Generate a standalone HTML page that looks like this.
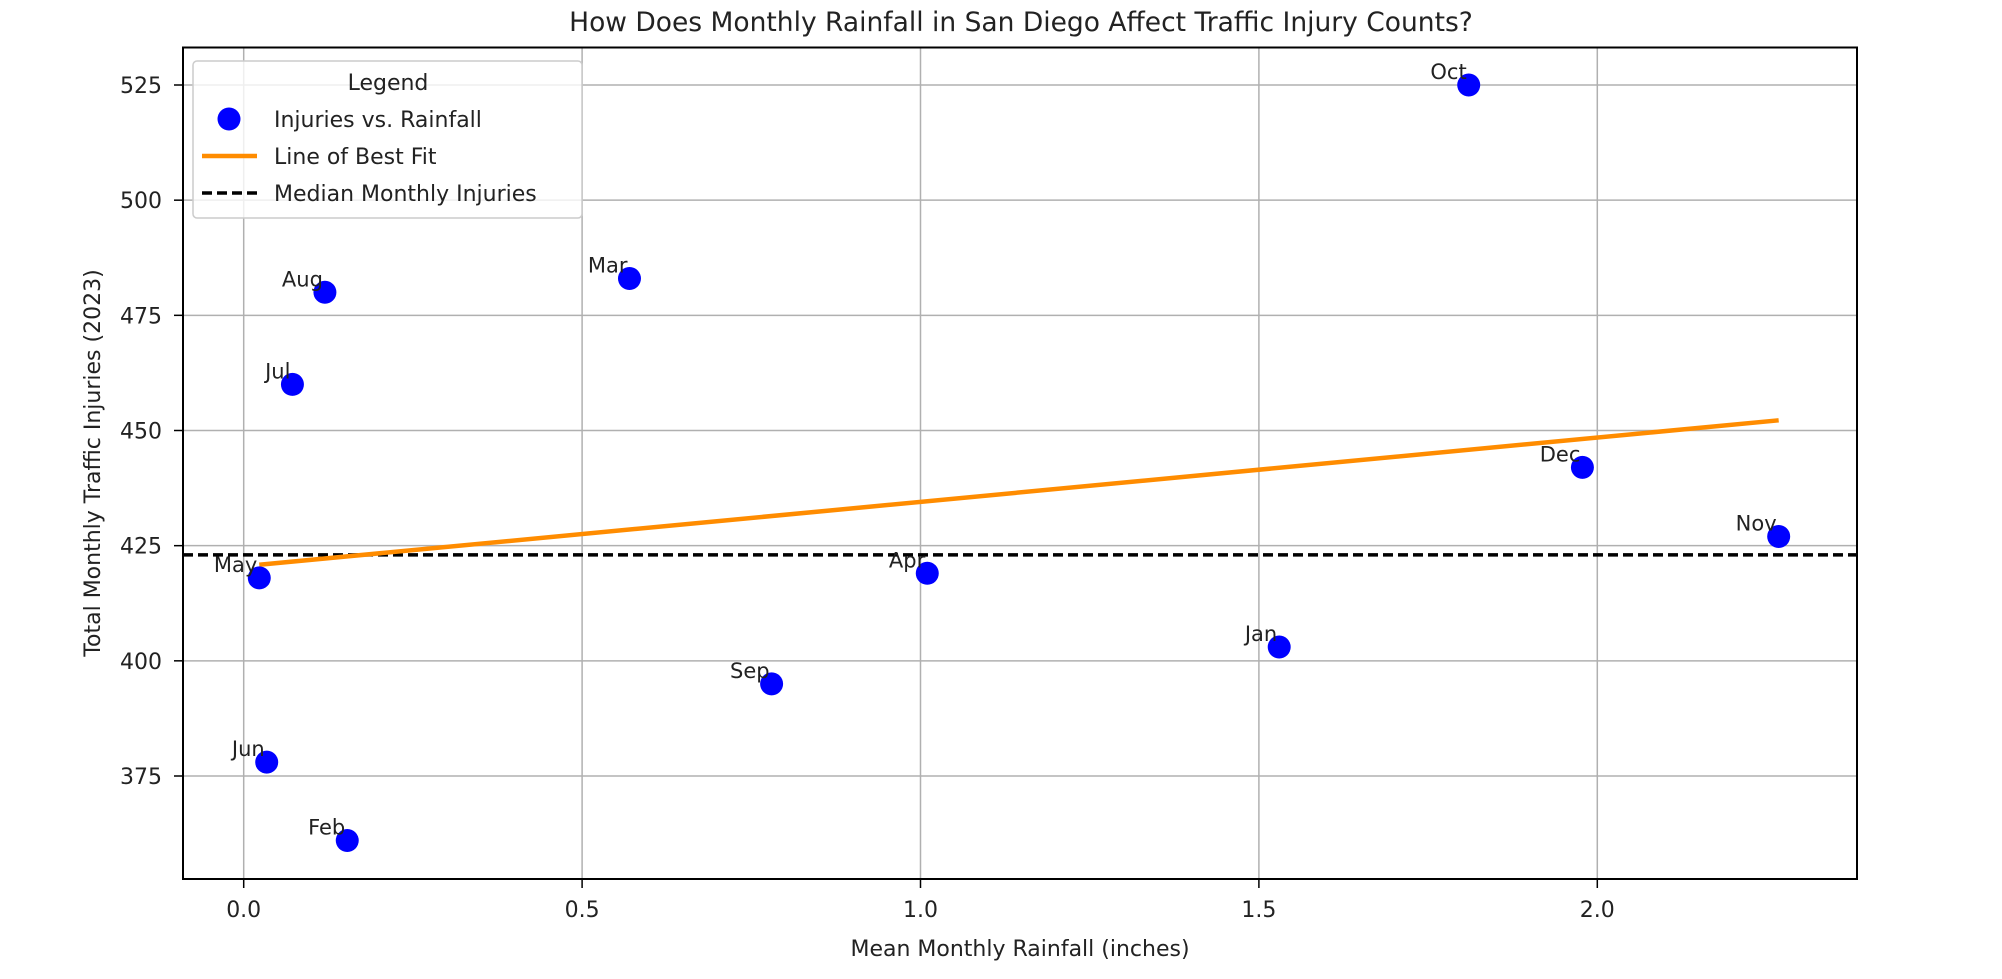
<!DOCTYPE html>
<html><head><meta charset="utf-8"><style>
html,body{margin:0;padding:0;background:#fff;}
svg text{font-family:"DejaVu Sans","Liberation Sans",sans-serif;fill:#222;}
</style></head><body>
<svg id="chart" width="2002" height="974" xmlns="http://www.w3.org/2000/svg">
<text x="1021" y="31" font-size="26.5" text-anchor="middle">How Does Monthly Rainfall in San Diego Affect Traffic Injury Counts?</text>
<g id="grid"></g>
<g id="ticks"></g>
<g id="marks"></g>
<rect x="183" y="47.5" width="1674" height="831.5" fill="none" stroke="#000" stroke-width="2"/>
<text x="1020" y="956" font-size="22" text-anchor="middle">Mean Monthly Rainfall (inches)</text>
<text x="0" y="0" font-size="22" text-anchor="middle" transform="translate(100,463) rotate(-90)">Total Monthly Traffic Injuries (2023)</text>
<g>
<rect x="193" y="61" width="389" height="157" rx="4" fill="#fff" fill-opacity="0.8" stroke="#ccc" stroke-width="1.5"/>
<text x="388" y="90" font-size="22" text-anchor="middle">Legend</text>
<circle cx="229" cy="119" r="11.5" fill="#0000ff"/>
<text x="274" y="127" font-size="22">Injuries vs. Rainfall</text>
<line x1="202" y1="156" x2="257" y2="156" stroke="#ff8c00" stroke-width="4.5"/>
<text x="274" y="164" font-size="22">Line of Best Fit</text>
<line x1="202" y1="193" x2="257" y2="193" stroke="#000" stroke-width="3.5" stroke-dasharray="10,5"/>
<text x="274" y="201" font-size="22">Median Monthly Injuries</text>
</g>
</svg>
<script>
const months = ["Jan","Feb","Mar","Apr","May","Jun","Jul","Aug","Sep","Oct","Nov","Dec"];
const rainfall = [1.53,0.153,0.57,1.01,0.023,0.034,0.072,0.12,0.78,1.81,2.268,1.978];
const injuries = [403,361,483,419,418,378,460,480,395,525,427,442];
const xTicks = [0.0,0.5,1.0,1.5,2.0];
const xTickLabels = ["0.0","0.5","1.0","1.5","2.0"];
const yTicks = [375,400,425,450,475,500,525];
const yTickLabels = ["375","400","425","450","475","500","525"];

const NS="http://www.w3.org/2000/svg";
function xs(v){return 243.7 + v*676.8;}
function ys(v){return 776 - (v-375)*(691/150);}
function mk(tag,attrs,parent){const e=document.createElementNS(NS,tag);for(const k in attrs)e.setAttribute(k,attrs[k]);parent.appendChild(e);return e;}
const grid=document.getElementById('grid'),ticks=document.getElementById('ticks'),marks=document.getElementById('marks');

xTicks.forEach((t,i)=>{
  const g=mk('line',{x1:xs(t),x2:xs(t),y1:47.5,y2:879,stroke:'#b0b0b0','stroke-width':1.5},grid);
  
  
  const tk=mk('line',{x1:xs(t),x2:xs(t),y1:879,y2:888,stroke:'#000','stroke-width':1.5},ticks);
  
  
  const tx=mk('text',{x:xs(t),y:917,'font-size':22,'text-anchor':'middle'},ticks);
  tx.textContent=xTickLabels[i];
  
  
});
yTicks.forEach((t,i)=>{
  const g=mk('line',{x1:183,x2:1857,y1:ys(t),y2:ys(t),stroke:'#b0b0b0','stroke-width':1.5},grid);
  
  
  const tk=mk('line',{x1:174,x2:183,y1:ys(t),y2:ys(t),stroke:'#000','stroke-width':1.5},ticks);
  
  
  const tx=mk('text',{x:162,y:ys(t)+8,'font-size':22,'text-anchor':'end'},ticks);
  tx.textContent=yTickLabels[i];
  
  
});

const sorted=[...injuries].sort((a,b)=>a-b);
const n=sorted.length;
const median = n%2 ? sorted[(n-1)/2] : (sorted[n/2-1]+sorted[n/2])/2;
const ml=mk('line',{x1:183,x2:1857,y1:ys(median),y2:ys(median),stroke:'#000','stroke-width':3.5,'stroke-dasharray':'10,5'},marks);



const mx=rainfall.reduce((a,b)=>a+b,0)/n, my=injuries.reduce((a,b)=>a+b,0)/n;
let sxy=0,sxx=0;for(let i=0;i<n;i++){sxy+=(rainfall[i]-mx)*(injuries[i]-my);sxx+=(rainfall[i]-mx)**2;}
const slope=sxy/sxx, icpt=my-slope*mx;
const x0=Math.min(...rainfall), x1=Math.max(...rainfall);
const fl=mk('line',{x1:xs(x0),y1:ys(icpt+slope*x0),x2:xs(x1),y2:ys(icpt+slope*x1),stroke:'#ff8c00','stroke-width':4.5},marks);



months.forEach((m,i)=>{
  const c=mk('circle',{cx:xs(rainfall[i]),cy:ys(injuries[i]),r:11.5,fill:'#0000ff'},marks);
  
  
  const t=mk('text',{x:xs(rainfall[i])-2,y:ys(injuries[i])-6,'font-size':21,'text-anchor':'end'},marks);
  t.textContent=m;
  
  
});
</script>
</body></html>
